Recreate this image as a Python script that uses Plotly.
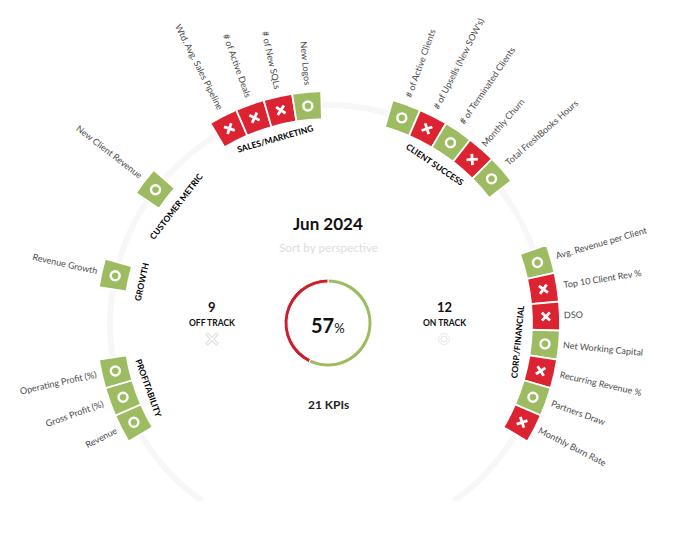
import math
import plotly.graph_objects as go

W, H = 686, 540
CX, CY = 328, 323

GREEN = "#9dbb61"
RED = "#dc2332"

group_names = ["SALES/MARKETING", "CLIENT SUCCESS", "CORP./FINANCIAL",
               "PROFITABILITY", "GROWTH", "CUSTOMER METRIC"]
group_kpis = [
    ["Wtd. Avg. Sales Pipeline", "# of Active Deals", "# of New SQLs", "New Logos"],
    ["# of Active Clients", "# of Upsells (New SOW's)", "# of Terminated Clients",
     "Monthly Churn", "Total FreshBooks Hours"],
    ["Avg. Revenue per Client", "Top 10 Client Rev %", "DSO", "Net Working Capital",
     "Recurring Revenue %", "Partners Draw", "Monthly Burn Rate"],
    ["Revenue", "Gross Profit (%)", "Operating Profit (%)"],
    ["Revenue Growth"],
    ["New Client Revenue"],
]
group_status = [
    [0, 0, 0, 1],
    [1, 0, 1, 0, 1],
    [1, 0, 0, 1, 0, 1, 0],
    [1, 1, 1],
    [1],
    [1],
]
on_track = 12
off_track = 9

# layout of the wheel (degrees clockwise from the top)
group_mid = [-16.1, 34.2, 95.5, 250.1, 282.5, 307.7]
STEP = 7.2
R_IN, R_OUT, R_RING, R_MAX = 204, 232, 218, 240
R_LABEL, R_GROUP = 237, 191
LABEL_SIZE = 9


def px(x):
    return x / W


def py(y):
    return 1 - y / H


def text_len(s, size):
    total = 0
    for c in s:
        if c in "il.,'|:;":
            total += 0.25
        elif c in " ftrjI()":
            total += 0.33
        elif c in "mwMW%#":
            total += 0.82
        elif c.isupper():
            total += 0.66
        else:
            total += 0.53
    return total * size


thetas, names, status = [], [], []
for mid, kpis, st in zip(group_mid, group_kpis, group_status):
    for i, (k, s) in enumerate(zip(kpis, st)):
        thetas.append(mid + (i - (len(kpis) - 1) / 2) * STEP)
        names.append(k)
        status.append(s)

fig = go.Figure()

fig.add_trace(go.Barpolar(
    r=[R_OUT - R_IN] * len(thetas), base=R_IN, theta=thetas, width=STEP,
    marker=dict(color=[GREEN if s else RED for s in status],
                line=dict(color="white", width=1.8)),
    hoverinfo="skip", showlegend=False,
))

on_t = [t for t, s in zip(thetas, status) if s]
off_t = [t for t, s in zip(thetas, status) if not s]
fig.add_trace(go.Scatterpolar(
    r=[R_RING] * len(on_t), theta=on_t, mode="markers",
    marker=dict(symbol="circle-open", size=9, color="white", line=dict(color="white", width=2.4)),
    hoverinfo="skip", showlegend=False,
))
fig.add_trace(go.Scatterpolar(
    r=[R_RING] * len(off_t), theta=off_t, mode="markers",
    marker=dict(symbol="x-thin", size=8, angle=off_t, color="white", line=dict(color="white", width=2.8)),
    hoverinfo="skip", showlegend=False,
))

# centre donut
fig.add_trace(go.Pie(
    values=[on_track, off_track], sort=False, direction="clockwise", rotation=0,
    hole=0.91, textinfo="none", hoverinfo="skip", showlegend=False,
    marker=dict(colors=[GREEN, "#c9202f"], line=dict(color="white", width=1)),
    domain=dict(x=[px(CX - 44), px(CX + 44)], y=[py(CY + 44), py(CY - 44)]),
))

# faint status icons
fig.add_trace(go.Scatter(
    x=[212], y=[339], mode="markers",
    marker=dict(symbol="x-thin", size=11, line=dict(color="#dcdcdc", width=3.5)),
    hoverinfo="skip", showlegend=False,
))
fig.add_trace(go.Scatter(
    x=[212], y=[339], mode="markers",
    marker=dict(symbol="x-thin", size=10, line=dict(color="white", width=1.6)),
    hoverinfo="skip", showlegend=False,
))
fig.add_trace(go.Scatter(
    x=[444, 444], y=[339, 339], mode="markers",
    marker=dict(symbol="circle-open", size=[11, 6], color="#dcdcdc", line=dict(color="#dcdcdc", width=1)),
    hoverinfo="skip", showlegend=False,
))

annotations = []


def label(x, y, text, size, color="#111111", angle=0, weight=400):
    annotations.append(dict(
        x=px(x), y=py(y), xref="paper", yref="paper", text=text, showarrow=False,
        xanchor="center", yanchor="middle", textangle=angle,
        font=dict(family="Lato", size=size, color=color, weight=weight),
    ))


def polar_xy(theta, r):
    a = math.radians(theta)
    return CX + r * math.sin(a), CY - r * math.cos(a)


for t, n in zip(thetas, names):
    x, y = polar_xy(t, R_LABEL + text_len(n, LABEL_SIZE) / 2)
    a = ((t + 180) % 360) - 180
    rot = a - 90 if a >= 0 else a + 90
    x += 1.5 * math.sin(math.radians(rot))
    y -= 1.5 * math.cos(math.radians(rot))
    label(x, y, n, LABEL_SIZE, "#4a4a4a", rot)

for mid, g in zip(group_mid, group_names):
    x, y = polar_xy(mid, R_GROUP)
    a = ((mid + 180) % 360) - 180
    if a > 90:
        a -= 180
    elif a < -90:
        a += 180
    label(x, y, g, 8.5, "#000000", a, 700)

label(CX, 224, "Jun 2024", 17, "#111111", weight=700)
label(CX, 247, "Sort by perspective", 11.7, "#dddddd")
label(CX, 325, '57<span style="font-size:13px;font-weight:400">%</span>', 20, "#111111", weight=700)
label(212, 307, str(off_track), 13, "#111111", weight=700)
label(212, 323, "OFF TRACK", 8.5, "#111111", weight=700)
label(444, 307, str(on_track), 13, "#111111", weight=700)
label(444, 323, "ON TRACK", 8.5, "#111111", weight=700)
label(CX, 404, f"{on_track + off_track} KPIs", 12, "#222222", weight=700)

SIN55 = math.sin(math.radians(55))
fig.update_layout(
    width=W, height=H, margin=dict(l=0, r=0, t=0, b=0),
    paper_bgcolor="white", plot_bgcolor="rgba(0,0,0,0)",
    showlegend=False,
    polar=dict(
        domain=dict(x=[px(CX - R_MAX), px(CX + R_MAX)],
                    y=[py(CY + R_MAX * SIN55), py(CY - R_MAX)]),
        sector=[-55, 235],
        bgcolor="rgba(0,0,0,0)",
        angularaxis=dict(direction="clockwise", rotation=90, visible=False),
        radialaxis=dict(range=[0, R_MAX], tickvals=[R_RING], showticklabels=False, ticks="",
                        showline=False, showgrid=True, gridcolor="#f7f7f7", gridwidth=6),
    ),
    xaxis=dict(range=[0, W], visible=False, domain=[0, 1], fixedrange=True),
    yaxis=dict(range=[H, 0], visible=False, domain=[0, 1], fixedrange=True),
    annotations=annotations,
    shapes=[dict(type="rect", xref="paper", yref="paper", x0=0, x1=1, y0=0, y1=py(501),
                 fillcolor="white", line=dict(width=0), layer="above")],
)

fig.write_html("out.html", config=dict(displayModeBar=False),
               post_script="document.body.style.margin='0';document.body.style.overflow='hidden';")
